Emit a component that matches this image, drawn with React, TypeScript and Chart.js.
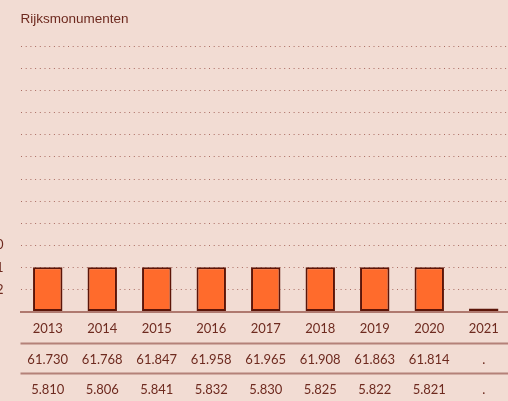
import React, { useEffect, useRef } from "react";
import { Chart, registerables } from "chart.js";

Chart.register(...registerables);

const title = "Rijksmonumenten";
const categories = ["2013", "2014", "2015", "2016", "2017", "2018", "2019", "2020", "2021"];
const barValues = [2, 2, 2, 2, 2, 2, 2, 2, 0];
const rowTotals = ["61.730", "61.768", "61.847", "61.958", "61.965", "61.908", "61.863", "61.814", "."];
const rowSecond = ["5.810", "5.806", "5.841", "5.832", "5.830", "5.825", "5.822", "5.821", "."];
const yMax = 12;
const yTickLabels: Record<number, string> = { 1: "2", 2: "1", 3: "0" };

const BG = "#f2dcd3";
const TEXT = "#6e2a1f";
const FONT = "Lato, 'Open Sans', sans-serif";
const TITLE_FONT = "'Liberation Sans', Arial, sans-serif";

export default function App() {
  const ref = useRef<HTMLCanvasElement | null>(null);

  useEffect(() => {
    if (!ref.current) return;
    const tablePlugin = {
      id: "tablePlugin",
      afterDraw(chart: any) {
        const { ctx, chartArea, scales } = chart;
        const xs = scales.x;
        ctx.save();
        // title
        ctx.fillStyle = TEXT;
        ctx.font = `13.5px ${TITLE_FONT}`;
        ctx.textAlign = "left";
        ctx.textBaseline = "middle";
        ctx.fillText(title, chartArea.left, 19);
        // separator lines
        ctx.strokeStyle = "rgba(130,55,45,0.55)";
        ctx.lineWidth = 2;
        [343.5, 373.5].forEach((y) => {
          ctx.beginPath();
          ctx.moveTo(chartArea.left, y);
          ctx.lineTo(chart.width, y);
          ctx.stroke();
        });
        ctx.fillStyle = TEXT;
        ctx.font = `13px ${FONT}`;
        ctx.textAlign = "center";
        ctx.textBaseline = "middle";
        categories.forEach((_, i) => {
          const x = xs.getPixelForValue(i);
          ctx.fillText(rowTotals[i], x, 360);
          ctx.fillText(rowSecond[i], x, 390);
        });
        ctx.restore();
      },
    };

    const chart = new Chart(ref.current, {
      type: "bar",
      data: {
        labels: categories,
        datasets: [
          {
            data: barValues,
            backgroundColor: "#ff6b2c",
            borderColor: "#5c1508",
            borderWidth: 2,
            borderSkipped: false,
            barPercentage: 0.54,
            categoryPercentage: 1,
            minBarLength: 3,
          },
        ],
      },
      options: {
        animation: false,
        responsive: false,
        maintainAspectRatio: false,
        layout: { padding: { top: 46.5, right: 0, bottom: 0, left: 0 } },
        plugins: { legend: { display: false }, tooltip: { enabled: false }, title: { display: false } },
        scales: {
          x: {
            grid: { display: false, drawTicks: false },
            border: { display: true, color: "rgba(130,55,45,0.6)", width: 2 },
            ticks: { color: TEXT, font: { family: FONT, size: 13 }, padding: 10, maxRotation: 0 },
            afterFit: (s: any) => {
              s.height = 89.5;
            },
          },
          y: {
            min: 0,
            max: yMax,
            grid: {
              drawTicks: false,
              color: (c: any) => (c.tick && c.tick.value === 0 ? "rgba(0,0,0,0)" : "rgba(140,60,50,0.7)"),
              lineWidth: 1,
            },
            border: { display: false, dash: [1, 3.7] },
            ticks: {
              stepSize: 1,
              padding: 17,
              color: TEXT,
              font: { family: FONT, size: 13 },
              callback: (v: any) => yTickLabels[v as number] ?? "",
            },
            afterFit: (s: any) => {
              s.width = 40.5;
            },
          },
        },
      },
      plugins: [tablePlugin],
    });
    return () => chart.destroy();
  }, []);

  return (
    <div
      style={{
        position: "fixed",
        left: 0,
        top: 0,
        width: 508,
        height: 401,
        overflow: "hidden",
        background: BG,
      }}
    >
      <canvas
        ref={ref}
        width={531}
        height={401}
        style={{ position: "absolute", left: -20, top: 0, width: 531, height: 401 }}
      />
    </div>
  );
}
